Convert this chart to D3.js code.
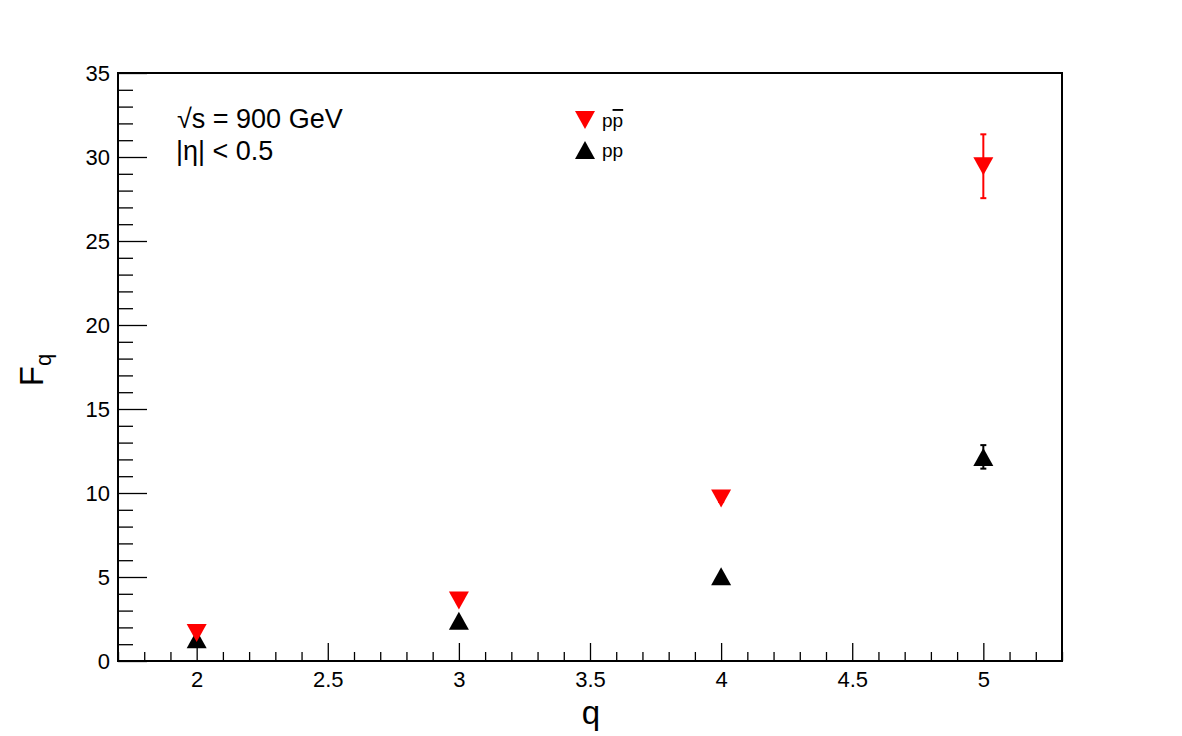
<!DOCTYPE html>
<html>
<head>
<meta charset="utf-8">
<script src="https://cdn.jsdelivr.net/npm/d3@7"></script>
<style>
  body { margin: 0; background: #fff; }
  svg text { font-family: "Liberation Sans", Arial, sans-serif; }
</style>
</head>
<body>
<div id="chart"></div>
<script>
// values
const qValues = [2, 3, 4, 5];
const ppbarF = [1.67, 3.6, 9.67, 29.45];
const ppbarErr = [0.05, 0.1, 0.2, 1.9];
const ppF = [1.3, 2.4, 5.05, 12.15];
const ppErr = [0.03, 0.05, 0.1, 0.7];
const xTicks = [2, 2.5, 3, 3.5, 4, 4.5, 5];
const yTicks = [0, 5, 10, 15, 20, 25, 30, 35];

const width = 1182, height = 736;
const margin = {left: 118, right: 120, top: 73, bottom: 75};

const svg = d3.select("#chart").append("svg")
  .attr("width", width)
  .attr("height", height);

const x = d3.scaleLinear().domain([1.7, 5.3]).range([margin.left, width - margin.right]);
const y = d3.scaleLinear().domain([0, 35]).range([height - margin.bottom, margin.top]);

// minor ticks
const xMinor = d3.range(17, 54).map(d => d / 10).filter(d => Math.abs(d * 2 - Math.round(d * 2)) > 1e-6);
const yMinor = d3.range(0, 36).filter(d => d % 5 !== 0);

svg.append("g")
  .attr("transform", `translate(0,${y(0)})`)
  .call(d3.axisBottom(x).tickValues(xMinor).tickSize(-9).tickFormat(""))
  .call(g => g.select(".domain").remove());

const xAxis = svg.append("g")
  .attr("transform", `translate(0,${y(0)})`)
  .call(d3.axisBottom(x).tickValues(xTicks).tickSize(-18).tickPadding(10).tickFormat(d3.format("")))
  .call(g => g.select(".domain").remove());
xAxis.selectAll("text").attr("font-size", 22).attr("fill", "#000");

svg.append("g")
  .attr("transform", `translate(${x(1.7)},0)`)
  .call(d3.axisLeft(y).tickValues(yMinor).tickSize(-15).tickFormat(""))
  .call(g => g.select(".domain").remove());

const yAxis = svg.append("g")
  .attr("transform", `translate(${x(1.7)},0)`)
  .call(d3.axisLeft(y).tickValues(yTicks).tickSize(-29).tickPadding(8))
  .call(g => g.select(".domain").remove());
yAxis.selectAll("text").attr("font-size", 22).attr("fill", "#000");

svg.selectAll(".tick line").attr("stroke", "#000").attr("stroke-width", 1.3);

// frame
svg.append("rect")
  .attr("x", x(1.7)).attr("y", y(35))
  .attr("width", x(5.3) - x(1.7)).attr("height", y(0) - y(35))
  .attr("fill", "none").attr("stroke", "#000").attr("stroke-width", 2);

// markers
const triDown = "M-10,-9L10,-9L0,9Z";
const triUp = "M-10,9L10,9L0,-9Z";

function drawSeries(vals, errs, color, path) {
  const g = svg.append("g");
  qValues.forEach((q, i) => {
    g.append("line")
      .attr("x1", x(q)).attr("x2", x(q))
      .attr("y1", y(vals[i] - errs[i])).attr("y2", y(vals[i] + errs[i]))
      .attr("stroke", color).attr("stroke-width", 2);
    [vals[i] - errs[i], vals[i] + errs[i]].forEach(v => {
      g.append("line")
        .attr("x1", x(q) - 3).attr("x2", x(q) + 3)
        .attr("y1", y(v)).attr("y2", y(v))
        .attr("stroke", color).attr("stroke-width", 2);
    });
    g.append("path")
      .attr("d", path)
      .attr("transform", `translate(${x(q)},${y(vals[i])})`)
      .attr("fill", color);
  });
}
drawSeries(ppF, ppErr, "#000", triUp);
drawSeries(ppbarF, ppbarErr, "#ff0000", triDown);

// legend
svg.append("path").attr("d", triDown).attr("transform", "translate(585,120)").attr("fill", "#ff0000");
svg.append("path").attr("d", triUp).attr("transform", "translate(585,150)").attr("fill", "#000");
const lt1 = svg.append("text").attr("x", 602).attr("y", 127).attr("font-size", 19);
lt1.append("tspan").text("p");
lt1.append("tspan").text("p").attr("text-decoration", "overline");
svg.append("text").attr("x", 602).attr("y", 157).attr("font-size", 19).text("pp");

// annotations
svg.append("text").attr("x", 177).attr("y", 128).attr("font-size", 27).text("\u221As = 900 GeV");
svg.append("text").attr("x", 176).attr("y", 160).attr("font-size", 27).text("|\u03b7| < 0.5");

// axis titles
svg.append("text")
  .attr("x", 591).attr("y", 724)
  .attr("text-anchor", "middle").attr("font-size", 33)
  .text("q");
const yt = svg.append("text")
  .attr("transform", "translate(43,370) rotate(-90)")
  .attr("text-anchor", "middle").attr("font-size", 33);
yt.append("tspan").text("F");
yt.append("tspan").text("q").attr("font-size", 22).attr("dy", 8);
</script>
</body>
</html>
